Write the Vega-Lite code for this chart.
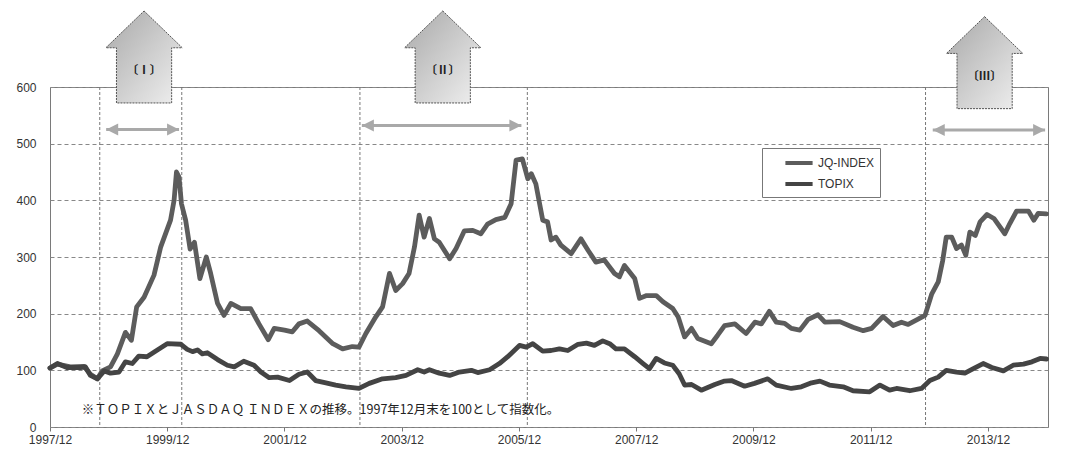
{
  "$schema": "https://vega.github.io/schema/vega-lite/v6.json",
  "width": 998,
  "height": 340,
  "autosize": {"type": "none"},
  "padding": {"left": 50, "top": 87, "right": 32, "bottom": 23},
  "background": "white",
  "config": {
    "view": {"stroke": "#7a7a7a", "strokeWidth": 1},
    "font": "Liberation Sans",
    "axis": {"labelFont": "Liberation Sans", "labelColor": "#333", "labelFontSize": 12, "title": null, "domain": false}
  },
  "datasets": {
    "idx": [
      {"d": "1997/12/01", "s": "JQ-INDEX", "v": 104},
      {"d": "1998/01/16", "s": "JQ-INDEX", "v": 111},
      {"d": "1998/04/07", "s": "JQ-INDEX", "v": 106},
      {"d": "1998/07/01", "s": "JQ-INDEX", "v": 107},
      {"d": "1998/08/10", "s": "JQ-INDEX", "v": 93},
      {"d": "1998/09/22", "s": "JQ-INDEX", "v": 85},
      {"d": "1998/10/22", "s": "JQ-INDEX", "v": 99},
      {"d": "1998/12/13", "s": "JQ-INDEX", "v": 106},
      {"d": "1999/01/25", "s": "JQ-INDEX", "v": 129},
      {"d": "1999/03/16", "s": "JQ-INDEX", "v": 167},
      {"d": "1999/04/22", "s": "JQ-INDEX", "v": 153},
      {"d": "1999/05/25", "s": "JQ-INDEX", "v": 212},
      {"d": "1999/07/10", "s": "JQ-INDEX", "v": 229},
      {"d": "1999/09/10", "s": "JQ-INDEX", "v": 268},
      {"d": "1999/10/22", "s": "JQ-INDEX", "v": 318},
      {"d": "1999/12/22", "s": "JQ-INDEX", "v": 365},
      {"d": "2000/01/13", "s": "JQ-INDEX", "v": 400},
      {"d": "2000/01/28", "s": "JQ-INDEX", "v": 450},
      {"d": "2000/02/13", "s": "JQ-INDEX", "v": 441},
      {"d": "2000/02/28", "s": "JQ-INDEX", "v": 394},
      {"d": "2000/03/25", "s": "JQ-INDEX", "v": 365},
      {"d": "2000/04/22", "s": "JQ-INDEX", "v": 314},
      {"d": "2000/05/19", "s": "JQ-INDEX", "v": 326},
      {"d": "2000/06/22", "s": "JQ-INDEX", "v": 262},
      {"d": "2000/08/01", "s": "JQ-INDEX", "v": 300},
      {"d": "2000/08/28", "s": "JQ-INDEX", "v": 271},
      {"d": "2000/10/10", "s": "JQ-INDEX", "v": 218},
      {"d": "2000/11/19", "s": "JQ-INDEX", "v": 197},
      {"d": "2001/01/01", "s": "JQ-INDEX", "v": 218},
      {"d": "2001/03/04", "s": "JQ-INDEX", "v": 209},
      {"d": "2001/05/04", "s": "JQ-INDEX", "v": 209},
      {"d": "2001/06/25", "s": "JQ-INDEX", "v": 182},
      {"d": "2001/08/22", "s": "JQ-INDEX", "v": 154},
      {"d": "2001/09/28", "s": "JQ-INDEX", "v": 174},
      {"d": "2001/12/01", "s": "JQ-INDEX", "v": 171},
      {"d": "2002/01/19", "s": "JQ-INDEX", "v": 168},
      {"d": "2002/03/01", "s": "JQ-INDEX", "v": 182},
      {"d": "2002/04/22", "s": "JQ-INDEX", "v": 187},
      {"d": "2002/07/04", "s": "JQ-INDEX", "v": 170},
      {"d": "2002/09/28", "s": "JQ-INDEX", "v": 147},
      {"d": "2002/11/28", "s": "JQ-INDEX", "v": 138},
      {"d": "2003/01/28", "s": "JQ-INDEX", "v": 142},
      {"d": "2003/03/10", "s": "JQ-INDEX", "v": 141},
      {"d": "2003/04/22", "s": "JQ-INDEX", "v": 165},
      {"d": "2003/06/22", "s": "JQ-INDEX", "v": 194},
      {"d": "2003/08/04", "s": "JQ-INDEX", "v": 212},
      {"d": "2003/09/16", "s": "JQ-INDEX", "v": 271},
      {"d": "2003/10/25", "s": "JQ-INDEX", "v": 241},
      {"d": "2003/12/07", "s": "JQ-INDEX", "v": 253},
      {"d": "2004/01/16", "s": "JQ-INDEX", "v": 271},
      {"d": "2004/02/19", "s": "JQ-INDEX", "v": 318},
      {"d": "2004/03/19", "s": "JQ-INDEX", "v": 374},
      {"d": "2004/04/19", "s": "JQ-INDEX", "v": 335},
      {"d": "2004/05/22", "s": "JQ-INDEX", "v": 368},
      {"d": "2004/06/22", "s": "JQ-INDEX", "v": 332},
      {"d": "2004/07/22", "s": "JQ-INDEX", "v": 326},
      {"d": "2004/09/25", "s": "JQ-INDEX", "v": 297},
      {"d": "2004/11/04", "s": "JQ-INDEX", "v": 315},
      {"d": "2004/12/25", "s": "JQ-INDEX", "v": 346},
      {"d": "2005/02/16", "s": "JQ-INDEX", "v": 347},
      {"d": "2005/04/07", "s": "JQ-INDEX", "v": 341},
      {"d": "2005/05/19", "s": "JQ-INDEX", "v": 358},
      {"d": "2005/07/10", "s": "JQ-INDEX", "v": 366},
      {"d": "2005/09/04", "s": "JQ-INDEX", "v": 370},
      {"d": "2005/10/13", "s": "JQ-INDEX", "v": 394},
      {"d": "2005/11/13", "s": "JQ-INDEX", "v": 471},
      {"d": "2005/12/22", "s": "JQ-INDEX", "v": 473},
      {"d": "2006/01/25", "s": "JQ-INDEX", "v": 438},
      {"d": "2006/02/16", "s": "JQ-INDEX", "v": 447},
      {"d": "2006/03/16", "s": "JQ-INDEX", "v": 429},
      {"d": "2006/04/28", "s": "JQ-INDEX", "v": 365},
      {"d": "2006/05/28", "s": "JQ-INDEX", "v": 362},
      {"d": "2006/06/19", "s": "JQ-INDEX", "v": 330},
      {"d": "2006/07/19", "s": "JQ-INDEX", "v": 335},
      {"d": "2006/08/19", "s": "JQ-INDEX", "v": 321},
      {"d": "2006/10/22", "s": "JQ-INDEX", "v": 306},
      {"d": "2006/12/22", "s": "JQ-INDEX", "v": 332},
      {"d": "2007/02/04", "s": "JQ-INDEX", "v": 312},
      {"d": "2007/03/25", "s": "JQ-INDEX", "v": 291},
      {"d": "2007/05/16", "s": "JQ-INDEX", "v": 295},
      {"d": "2007/07/19", "s": "JQ-INDEX", "v": 271},
      {"d": "2007/08/19", "s": "JQ-INDEX", "v": 265},
      {"d": "2007/09/19", "s": "JQ-INDEX", "v": 285},
      {"d": "2007/11/22", "s": "JQ-INDEX", "v": 262},
      {"d": "2007/12/22", "s": "JQ-INDEX", "v": 227},
      {"d": "2008/02/04", "s": "JQ-INDEX", "v": 232},
      {"d": "2008/04/04", "s": "JQ-INDEX", "v": 232},
      {"d": "2008/05/16", "s": "JQ-INDEX", "v": 221},
      {"d": "2008/07/16", "s": "JQ-INDEX", "v": 209},
      {"d": "2008/08/19", "s": "JQ-INDEX", "v": 194},
      {"d": "2008/09/28", "s": "JQ-INDEX", "v": 159},
      {"d": "2008/11/10", "s": "JQ-INDEX", "v": 174},
      {"d": "2008/12/19", "s": "JQ-INDEX", "v": 156},
      {"d": "2009/03/13", "s": "JQ-INDEX", "v": 147},
      {"d": "2009/04/22", "s": "JQ-INDEX", "v": 162},
      {"d": "2009/06/04", "s": "JQ-INDEX", "v": 179},
      {"d": "2009/08/07", "s": "JQ-INDEX", "v": 182},
      {"d": "2009/10/16", "s": "JQ-INDEX", "v": 165},
      {"d": "2009/12/10", "s": "JQ-INDEX", "v": 185},
      {"d": "2010/01/19", "s": "JQ-INDEX", "v": 182},
      {"d": "2010/03/10", "s": "JQ-INDEX", "v": 204},
      {"d": "2010/04/22", "s": "JQ-INDEX", "v": 185},
      {"d": "2010/06/13", "s": "JQ-INDEX", "v": 183},
      {"d": "2010/07/25", "s": "JQ-INDEX", "v": 174},
      {"d": "2010/09/16", "s": "JQ-INDEX", "v": 171},
      {"d": "2010/11/07", "s": "JQ-INDEX", "v": 190},
      {"d": "2011/01/07", "s": "JQ-INDEX", "v": 198},
      {"d": "2011/02/19", "s": "JQ-INDEX", "v": 185},
      {"d": "2011/05/22", "s": "JQ-INDEX", "v": 186},
      {"d": "2011/08/13", "s": "JQ-INDEX", "v": 176},
      {"d": "2011/10/16", "s": "JQ-INDEX", "v": 170},
      {"d": "2011/12/07", "s": "JQ-INDEX", "v": 174},
      {"d": "2012/02/16", "s": "JQ-INDEX", "v": 195},
      {"d": "2012/04/19", "s": "JQ-INDEX", "v": 179},
      {"d": "2012/06/10", "s": "JQ-INDEX", "v": 185},
      {"d": "2012/07/22", "s": "JQ-INDEX", "v": 181},
      {"d": "2012/09/13", "s": "JQ-INDEX", "v": 189},
      {"d": "2012/11/04", "s": "JQ-INDEX", "v": 197},
      {"d": "2012/12/16", "s": "JQ-INDEX", "v": 235},
      {"d": "2013/01/25", "s": "JQ-INDEX", "v": 256},
      {"d": "2013/02/22", "s": "JQ-INDEX", "v": 294},
      {"d": "2013/03/16", "s": "JQ-INDEX", "v": 335},
      {"d": "2013/04/19", "s": "JQ-INDEX", "v": 335},
      {"d": "2013/05/19", "s": "JQ-INDEX", "v": 315},
      {"d": "2013/06/19", "s": "JQ-INDEX", "v": 321},
      {"d": "2013/07/16", "s": "JQ-INDEX", "v": 303},
      {"d": "2013/08/10", "s": "JQ-INDEX", "v": 344},
      {"d": "2013/09/13", "s": "JQ-INDEX", "v": 338},
      {"d": "2013/10/13", "s": "JQ-INDEX", "v": 362},
      {"d": "2013/11/25", "s": "JQ-INDEX", "v": 375},
      {"d": "2014/01/07", "s": "JQ-INDEX", "v": 368},
      {"d": "2014/03/16", "s": "JQ-INDEX", "v": 341},
      {"d": "2014/04/16", "s": "JQ-INDEX", "v": 359},
      {"d": "2014/05/28", "s": "JQ-INDEX", "v": 381},
      {"d": "2014/08/10", "s": "JQ-INDEX", "v": 381},
      {"d": "2014/09/13", "s": "JQ-INDEX", "v": 365},
      {"d": "2014/10/10", "s": "JQ-INDEX", "v": 377},
      {"d": "2014/12/01", "s": "JQ-INDEX", "v": 376},
      {"d": "1997/12/01", "s": "TOPIX", "v": 104},
      {"d": "1998/01/16", "s": "TOPIX", "v": 112},
      {"d": "1998/03/16", "s": "TOPIX", "v": 105},
      {"d": "1998/06/10", "s": "TOPIX", "v": 105},
      {"d": "1998/07/10", "s": "TOPIX", "v": 106},
      {"d": "1998/08/10", "s": "TOPIX", "v": 91},
      {"d": "1998/09/22", "s": "TOPIX", "v": 85},
      {"d": "1998/11/04", "s": "TOPIX", "v": 99},
      {"d": "1998/12/13", "s": "TOPIX", "v": 95},
      {"d": "1999/02/04", "s": "TOPIX", "v": 97},
      {"d": "1999/03/16", "s": "TOPIX", "v": 115},
      {"d": "1999/04/28", "s": "TOPIX", "v": 112},
      {"d": "1999/06/07", "s": "TOPIX", "v": 125},
      {"d": "1999/07/28", "s": "TOPIX", "v": 124},
      {"d": "1999/10/01", "s": "TOPIX", "v": 136},
      {"d": "1999/12/01", "s": "TOPIX", "v": 147},
      {"d": "2000/02/25", "s": "TOPIX", "v": 146},
      {"d": "2000/04/04", "s": "TOPIX", "v": 137},
      {"d": "2000/05/07", "s": "TOPIX", "v": 133},
      {"d": "2000/06/07", "s": "TOPIX", "v": 136},
      {"d": "2000/07/07", "s": "TOPIX", "v": 129},
      {"d": "2000/08/07", "s": "TOPIX", "v": 131},
      {"d": "2000/10/10", "s": "TOPIX", "v": 119},
      {"d": "2000/12/10", "s": "TOPIX", "v": 109},
      {"d": "2001/01/22", "s": "TOPIX", "v": 106},
      {"d": "2001/03/22", "s": "TOPIX", "v": 116},
      {"d": "2001/05/25", "s": "TOPIX", "v": 109},
      {"d": "2001/07/07", "s": "TOPIX", "v": 97},
      {"d": "2001/08/28", "s": "TOPIX", "v": 87},
      {"d": "2001/10/19", "s": "TOPIX", "v": 88},
      {"d": "2002/01/01", "s": "TOPIX", "v": 82},
      {"d": "2002/03/01", "s": "TOPIX", "v": 93},
      {"d": "2002/04/22", "s": "TOPIX", "v": 97},
      {"d": "2002/06/13", "s": "TOPIX", "v": 82},
      {"d": "2002/08/16", "s": "TOPIX", "v": 78},
      {"d": "2002/10/16", "s": "TOPIX", "v": 74},
      {"d": "2002/12/19", "s": "TOPIX", "v": 71},
      {"d": "2003/03/10", "s": "TOPIX", "v": 68},
      {"d": "2003/05/13", "s": "TOPIX", "v": 77},
      {"d": "2003/08/04", "s": "TOPIX", "v": 85},
      {"d": "2003/10/25", "s": "TOPIX", "v": 87},
      {"d": "2003/12/28", "s": "TOPIX", "v": 91},
      {"d": "2004/03/10", "s": "TOPIX", "v": 101},
      {"d": "2004/04/19", "s": "TOPIX", "v": 97},
      {"d": "2004/05/22", "s": "TOPIX", "v": 101},
      {"d": "2004/07/22", "s": "TOPIX", "v": 95},
      {"d": "2004/09/25", "s": "TOPIX", "v": 91},
      {"d": "2004/11/25", "s": "TOPIX", "v": 97},
      {"d": "2005/02/07", "s": "TOPIX", "v": 100},
      {"d": "2005/03/19", "s": "TOPIX", "v": 96},
      {"d": "2005/06/01", "s": "TOPIX", "v": 101},
      {"d": "2005/08/01", "s": "TOPIX", "v": 112},
      {"d": "2005/09/22", "s": "TOPIX", "v": 124},
      {"d": "2005/12/04", "s": "TOPIX", "v": 144},
      {"d": "2006/01/16", "s": "TOPIX", "v": 141},
      {"d": "2006/02/25", "s": "TOPIX", "v": 147},
      {"d": "2006/04/28", "s": "TOPIX", "v": 134},
      {"d": "2006/06/19", "s": "TOPIX", "v": 135},
      {"d": "2006/08/10", "s": "TOPIX", "v": 138},
      {"d": "2006/10/01", "s": "TOPIX", "v": 135},
      {"d": "2006/12/04", "s": "TOPIX", "v": 146},
      {"d": "2007/01/25", "s": "TOPIX", "v": 148},
      {"d": "2007/03/16", "s": "TOPIX", "v": 144},
      {"d": "2007/05/07", "s": "TOPIX", "v": 152},
      {"d": "2007/06/19", "s": "TOPIX", "v": 147},
      {"d": "2007/07/28", "s": "TOPIX", "v": 138},
      {"d": "2007/09/19", "s": "TOPIX", "v": 138},
      {"d": "2007/11/22", "s": "TOPIX", "v": 124},
      {"d": "2008/01/13", "s": "TOPIX", "v": 112},
      {"d": "2008/02/22", "s": "TOPIX", "v": 103},
      {"d": "2008/04/04", "s": "TOPIX", "v": 121},
      {"d": "2008/05/25", "s": "TOPIX", "v": 113},
      {"d": "2008/07/16", "s": "TOPIX", "v": 109},
      {"d": "2008/08/25", "s": "TOPIX", "v": 94},
      {"d": "2008/09/28", "s": "TOPIX", "v": 74},
      {"d": "2008/11/10", "s": "TOPIX", "v": 75},
      {"d": "2009/01/10", "s": "TOPIX", "v": 65},
      {"d": "2009/04/04", "s": "TOPIX", "v": 75},
      {"d": "2009/06/04", "s": "TOPIX", "v": 81},
      {"d": "2009/07/16", "s": "TOPIX", "v": 82},
      {"d": "2009/10/07", "s": "TOPIX", "v": 72},
      {"d": "2009/12/07", "s": "TOPIX", "v": 77},
      {"d": "2010/02/28", "s": "TOPIX", "v": 85},
      {"d": "2010/04/22", "s": "TOPIX", "v": 74},
      {"d": "2010/07/25", "s": "TOPIX", "v": 68},
      {"d": "2010/09/25", "s": "TOPIX", "v": 71},
      {"d": "2010/11/28", "s": "TOPIX", "v": 78},
      {"d": "2011/01/19", "s": "TOPIX", "v": 81},
      {"d": "2011/03/19", "s": "TOPIX", "v": 74},
      {"d": "2011/06/13", "s": "TOPIX", "v": 71},
      {"d": "2011/08/13", "s": "TOPIX", "v": 64},
      {"d": "2011/11/25", "s": "TOPIX", "v": 62},
      {"d": "2012/01/28", "s": "TOPIX", "v": 74},
      {"d": "2012/03/28", "s": "TOPIX", "v": 65},
      {"d": "2012/05/10", "s": "TOPIX", "v": 68},
      {"d": "2012/08/01", "s": "TOPIX", "v": 64},
      {"d": "2012/10/13", "s": "TOPIX", "v": 68},
      {"d": "2012/12/04", "s": "TOPIX", "v": 82},
      {"d": "2013/01/25", "s": "TOPIX", "v": 88},
      {"d": "2013/03/16", "s": "TOPIX", "v": 100},
      {"d": "2013/05/19", "s": "TOPIX", "v": 97},
      {"d": "2013/07/10", "s": "TOPIX", "v": 95},
      {"d": "2013/09/01", "s": "TOPIX", "v": 103},
      {"d": "2013/11/01", "s": "TOPIX", "v": 112},
      {"d": "2013/12/25", "s": "TOPIX", "v": 105},
      {"d": "2014/03/07", "s": "TOPIX", "v": 99},
      {"d": "2014/05/07", "s": "TOPIX", "v": 109},
      {"d": "2014/07/10", "s": "TOPIX", "v": 111},
      {"d": "2014/09/01", "s": "TOPIX", "v": 115},
      {"d": "2014/10/22", "s": "TOPIX", "v": 121},
      {"d": "2014/12/01", "s": "TOPIX", "v": 120}
    ],
    "events": [
      {"d": "1998/10/07"},
      {"d": "2000/03/01"},
      {"d": "2003/03/16"},
      {"d": "2006/01/22"},
      {"d": "2012/11/07"}
    ],
    "phases": [
      {"c": "1999/07/10", "y": 653, "ly": 628, "label": "〔Ⅰ〕", "a": "1998/11/16", "b": "2000/02/13", "ay": 525},
      {"c": "2004/08/13", "y": 653, "ly": 628, "label": "〔Ⅱ〕", "a": "2003/03/28", "b": "2005/12/16", "ay": 532},
      {"c": "2013/11/10", "y": 643, "ly": 618, "label": "〔Ⅲ〕", "a": "2012/12/22", "b": "2014/11/22", "ay": 524}
    ],
    "note": [
      {"d": "1998/06/17", "y": 30, "t": "※ＴＯＰＩＸとＪＡＳＤＡＱ ＩＮＤＥＸの推移。1997年12月末を100として指数化。"}
    ]
  },
  "layer": [
    {
      "data": {"name": "events"},
      "mark": {"type": "rule", "color": "#777", "strokeWidth": 1, "strokeDash": [3, 2]},
      "encoding": {
        "x": {"field": "d", "type": "temporal"}
      }
    },
    {
      "data": {"name": "idx"},
      "mark": {"type": "line", "strokeWidth": 4.8, "strokeJoin": "round", "strokeCap": "round"},
      "encoding": {
        "x": {
          "field": "d", "type": "temporal",
          "scale": {"domain": [{"year": 1997, "month": 12, "date": 1}, {"year": 2014, "month": 12, "date": 10}]},
          "axis": {
            "format": "%Y/%m", "grid": false, "ticks": true, "tickSize": 4, "tickColor": "#777",
            "labelPadding": 3, "labelFlush": false, "labelOverlap": false,
            "values": [
              {"year": 1997, "month": 12, "date": 1}, {"year": 1999, "month": 12, "date": 1},
              {"year": 2001, "month": 12, "date": 1}, {"year": 2003, "month": 12, "date": 1},
              {"year": 2005, "month": 12, "date": 1}, {"year": 2007, "month": 12, "date": 1},
              {"year": 2009, "month": 12, "date": 1}, {"year": 2011, "month": 12, "date": 1},
              {"year": 2013, "month": 12, "date": 1}
            ]
          }
        },
        "y": {
          "field": "v", "type": "quantitative",
          "scale": {"domain": [0, 600], "nice": false},
          "axis": {
            "values": [0, 100, 200, 300, 400, 500, 600], "ticks": false, "labelPadding": 14,
            "grid": true, "gridColor": "#888", "gridDash": [4, 3], "gridWidth": 1
          }
        },
        "color": {
          "field": "s", "type": "nominal",
          "scale": {"domain": ["JQ-INDEX", "TOPIX"], "range": ["#5c5c5c", "#444444"]},
          "legend": {
            "title": null, "orient": "none", "legendX": 712, "legendY": 61,
            "symbolType": "M-1.7,0 L1.7,0", "symbolStrokeWidth": 4, "symbolSize": 256,
            "strokeColor": "#777", "fillColor": "white", "padding": 5,
            "labelFont": "Liberation Sans", "labelFontSize": 12, "labelColor": "#333",
            "rowPadding": 3, "symbolOffset": 22, "labelOffset": 9
          }
        }
      }
    },
    {
      "data": {"name": "phases"},
      "mark": {"type": "rule", "color": "#a9a9a9", "strokeWidth": 3},
      "encoding": {
        "x": {"field": "a", "type": "temporal"},
        "x2": {"field": "b"},
        "y": {"field": "ay", "type": "quantitative"}
      }
    },
    {
      "data": {"name": "phases"},
      "mark": {"type": "point", "shape": "M0,0 L2,-1 L2,1 Z", "size": 144, "filled": true, "color": "#a9a9a9", "opacity": 1},
      "encoding": {
        "x": {"field": "a", "type": "temporal"},
        "y": {"field": "ay", "type": "quantitative"}
      }
    },
    {
      "data": {"name": "phases"},
      "mark": {"type": "point", "shape": "M0,0 L-2,-1 L-2,1 Z", "size": 144, "filled": true, "color": "#a9a9a9", "opacity": 1},
      "encoding": {
        "x": {"field": "b", "type": "temporal"},
        "y": {"field": "ay", "type": "quantitative"}
      }
    },
    {
      "data": {"name": "phases"},
      "mark": {
        "type": "point",
        "shape": "M0,-1 L0.83,-0.2 L0.6,-0.2 L0.6,1 L-0.6,1 L-0.6,-0.2 L-0.83,-0.2 Z",
        "size": 8464, "filled": true, "opacity": 1,
        "fill": {"gradient": "linear", "x1": 0, "y1": 0, "x2": 1, "y2": 1, "stops": [{"offset": 0, "color": "#a8a8a8"}, {"offset": 1, "color": "#f0f0f0"}]},
        "stroke": "#555", "strokeWidth": 1, "strokeDash": [2, 1]
      },
      "encoding": {
        "x": {"field": "c", "type": "temporal"},
        "y": {"field": "y", "type": "quantitative"}
      }
    },
    {
      "data": {"name": "phases"},
      "mark": {"type": "text", "font": "Noto Sans CJK JP", "fontSize": 11.5, "fontWeight": "bold", "color": "#222"},
      "encoding": {
        "x": {"field": "c", "type": "temporal"},
        "y": {"field": "ly", "type": "quantitative"},
        "text": {"field": "label"}
      }
    },
    {
      "data": {"name": "note"},
      "mark": {"type": "text", "font": "Noto Sans CJK JP", "fontSize": 12.5, "align": "left", "color": "#222"},
      "encoding": {
        "x": {"field": "d", "type": "temporal"},
        "y": {"field": "y", "type": "quantitative"},
        "text": {"field": "t"}
      }
    }
  ]
}
